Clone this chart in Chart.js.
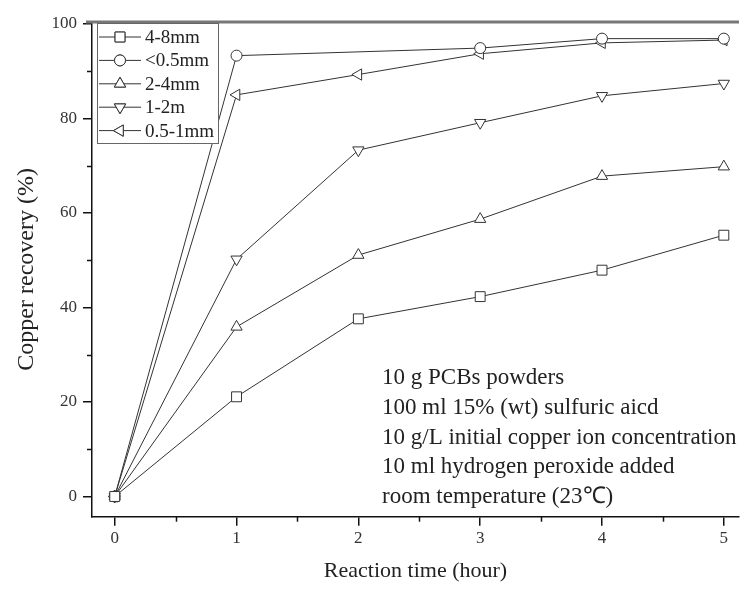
<!DOCTYPE html>
<html><head><meta charset="utf-8">
<script src="https://cdn.jsdelivr.net/npm/chart.js@4/dist/chart.umd.min.js"></script>
<style>html,body{margin:0;padding:0;background:#fff;} #wrap{width:747px;height:589px;}</style>
</head><body><div id="wrap"><canvas id="c" width="747" height="589"></canvas></div>
<script>
const hours = [0, 1, 2, 3, 4, 5];
const xTicks = [0, 1, 2, 3, 4, 5];
const xMinorTicks = [0.5, 1.5, 2.5, 3.5, 4.5];
const yTicks = [0, 20, 40, 60, 80, 100];
const yMinorTicks = [10, 30, 50, 70, 90];
const seriesNames = ['4-8mm', '<0.5mm', '2-4mm', '1-2m', '0.5-1mm'];
const s4to8 = [0, 21.1, 37.6, 42.3, 47.9, 55.3];
const sUnder05 = [0, 93.3, null, 94.9, 96.9, 96.9];
const s2to4 = [0, 35.9, 51.1, 58.7, 67.8, 69.8];
const s1to2 = [0, 50.2, 73.3, 79.1, 84.8, 87.4];
const s05to1 = [0, 85.0, 89.3, 93.7, 96.0, 96.6];
const noteLines = ['10 g PCBs powders', '100 ml 15% (wt) sulfuric aicd', '10 g/L initial copper ion concentration', '10 ml hydrogen peroxide added', 'room temperature (23℃)'];

const FONT = 'Liberation Serif, "Times New Roman", serif';
const INK = '#333';
const styles = [
  {pointStyle: 'rect', rotation: 0, radius: 7},
  {pointStyle: 'circle', rotation: 0, radius: 5.5},
  {pointStyle: 'triangle', rotation: 0, radius: 6.5},
  {pointStyle: 'triangle', rotation: 180, radius: 6.5},
  {pointStyle: 'triangle', rotation: 270, radius: 6.5}
];
const seriesData = [s4to8, sUnder05, s2to4, s1to2, s05to1];

const datasets = seriesData.map((arr, i) => ({
  label: seriesNames[i],
  data: hours.map((h, j) => ({x: h, y: arr[j]})),
  borderColor: INK,
  borderWidth: 1,
  backgroundColor: '#fff',
  pointBackgroundColor: '#fff',
  pointBorderColor: INK,
  pointBorderWidth: 1,
  pointStyle: styles[i].pointStyle,
  pointRotation: styles[i].rotation,
  pointRadius: styles[i].radius,
  spanGaps: true,
  tension: 0,
  fill: false
}));

const extras = {
  id: 'extras',
  afterDraw(chart) {
    const {ctx, chartArea: a, scales: {x, y}} = chart;
    ctx.save();
    // top frame
    ctx.strokeStyle = '#777';
    ctx.lineWidth = 3;
    ctx.beginPath(); ctx.moveTo(a.left - 6, a.top); ctx.lineTo(a.right, a.top); ctx.stroke();
    // minor ticks
    ctx.strokeStyle = '#111';
    ctx.lineWidth = 1.5;
    xMinorTicks.forEach(v => {
      const px = Math.round(x.getPixelForValue(v)) + 0.5;
      ctx.beginPath(); ctx.moveTo(px, a.bottom); ctx.lineTo(px, a.bottom + 5); ctx.stroke();
    });
    yMinorTicks.forEach(v => {
      const py = Math.round(y.getPixelForValue(v)) + 0.5;
      ctx.beginPath(); ctx.moveTo(a.left, py); ctx.lineTo(a.left - 5, py); ctx.stroke();
    });
    // legend
    const lx = a.left + 5, ly = a.top + 1, lw = 121, lh = 120;
    ctx.fillStyle = '#fff';
    ctx.fillRect(lx, ly, lw, lh);
    ctx.strokeStyle = '#666';
    ctx.lineWidth = 1;
    ctx.strokeRect(lx + 0.5, ly + 0.5, lw, lh);
    ctx.font = '19px ' + FONT;
    ctx.textBaseline = 'middle';
    ctx.textAlign = 'left';
    chart.data.datasets.forEach((ds, i) => {
      const yy = ly + 14 + i * 23.4;
      ctx.strokeStyle = INK; ctx.lineWidth = 1;
      ctx.beginPath(); ctx.moveTo(lx + 2, yy); ctx.lineTo(lx + 44, yy); ctx.stroke();
      ctx.fillStyle = '#fff';
      Chart.helpers.drawPoint(ctx, {pointStyle: ds.pointStyle, rotation: ds.pointRotation, radius: ds.pointRadius, borderWidth: 1}, lx + 23, yy);
      ctx.fill(); ctx.stroke();
      ctx.fillStyle = '#222';
      ctx.fillText(ds.label, lx + 48, yy + 1);
    });
    // annotation
    ctx.font = '23px ' + FONT;
    ctx.fillStyle = '#222';
    noteLines.forEach((t, i) => ctx.fillText(t, 382, 378 + i * 29.8));
    ctx.restore();
  }
};

new Chart(document.getElementById('c'), {
  type: 'line',
  data: {datasets},
  options: {
    animation: false, responsive: false, devicePixelRatio: 1,
    layout: {padding: {top: 22, right: 0, left: 0, bottom: 0}},
    plugins: {legend: {display: false}, tooltip: {enabled: false}},
    scales: {
      x: {
        type: 'linear', min: -0.1865, max: 5.1245,
        afterBuildTicks: s => { s.ticks = xTicks.map(v => ({value: v})); },
        grid: {drawOnChartArea: false, tickLength: 9, color: '#111', lineWidth: 1.5},
        border: {color: '#111', width: 1.5},
        ticks: {font: {family: FONT, size: 17}, color: INK, padding: 3, maxRotation: 0, autoSkip: false},
        title: {display: true, text: 'Reaction time (hour)', font: {family: FONT, size: 22}, color: '#222', padding: {top: 4, bottom: 5}},
        afterFit: s => { s.height = 72.3; }
      },
      y: {
        type: 'linear', min: -4.275, max: 100.42,
        afterBuildTicks: s => { s.ticks = yTicks.map(v => ({value: v})); },
        grid: {drawOnChartArea: false, tickLength: 9, color: '#111', lineWidth: 1.5},
        border: {color: '#111', width: 1.5},
        ticks: {font: {family: FONT, size: 17}, color: INK, padding: 6, autoSkip: false},
        title: {display: true, text: 'Copper recovery (%)', font: {family: FONT, size: 24}, color: '#222', padding: {top: 12, bottom: 4}},
        afterFit: s => { s.width = 92; }
      }
    }
  },
  plugins: [extras]
});
</script>
</body></html>
